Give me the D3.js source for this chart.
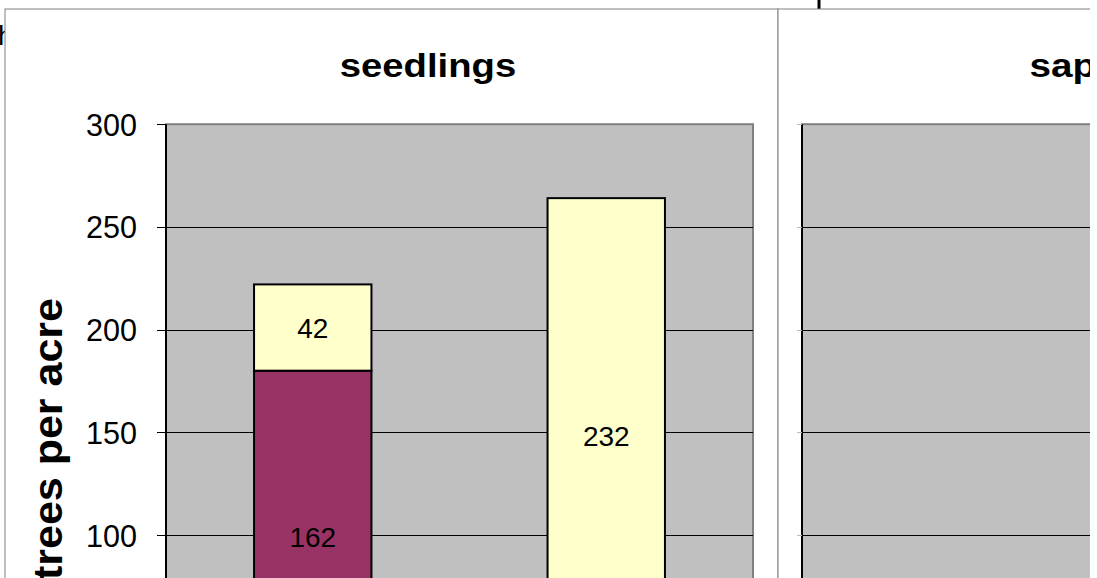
<!DOCTYPE html>
<html>
<head>
<meta charset="utf-8">
<script src="https://cdn.jsdelivr.net/npm/d3@7"></script>
<style>
  body { margin: 0; background: #fff; overflow: hidden; }
  svg { display: block; }
  text { font-family: "Liberation Sans", Arial, sans-serif; fill: #000; }
</style>
</head>
<body>
<div id="chart"></div>
<script>
// panels, categories, stacked series (bottom to top)
const panels = ["seedlings", "saplings"];
const categories = ["before", "after"];
const seriesNames = ["other", "oak", "maple"];
const seriesColors = ["#9999FF", "#993366", "#FFFFCC"];
// seedlings values per category, one entry per series
const seedlingsValues = [[18, 162, 42], [32, 0, 232]];
// saplings bars sit below the visible area
const saplingsValues = [[6, 10, 14], [4, 0, 20]];
const yTicks = [0, 50, 100, 150, 200, 250, 300];

const W = 1090, H = 578;
const svg = d3.select("#chart").append("svg")
    .attr("width", W)
    .attr("height", H);

// text sitting behind the chart object
svg.append("text")
    .attr("x", -2)
    .attr("y", 45)
    .attr("font-size", 28)
    .text("h");
svg.append("line")
    .attr("x1", 819).attr("x2", 819)
    .attr("y1", 0).attr("y2", 9)
    .attr("stroke", "#000")
    .attr("stroke-width", 3);

const y = d3.scaleLinear().domain([0, 300]).range([740.4, 124.2]);

function drawPanel(frameX, frameW, plotX, plotW, title, titleX, values, showLabels) {
    const g = svg.append("g");
    g.append("rect")
        .attr("x", frameX).attr("y", 9)
        .attr("width", frameW).attr("height", 900)
        .attr("fill", "#fff")
        .attr("stroke", "#808080")
        .attr("stroke-width", 1);

    g.append("rect")
        .attr("x", plotX).attr("y", y(300))
        .attr("width", plotW).attr("height", y(0) - y(300))
        .attr("fill", "#C0C0C0")
        .attr("stroke", "#808080")
        .attr("stroke-width", 2);

    // gridlines
    g.append("g").selectAll("line")
        .data(yTicks.filter(d => d > 0 && d < 300))
        .enter().append("line")
        .attr("x1", plotX).attr("x2", plotX + plotW)
        .attr("y1", d => Math.round(y(d)) + 0.5)
        .attr("y2", d => Math.round(y(d)) + 0.5)
        .attr("stroke", "#000")
        .attr("stroke-width", 1);

    const x = d3.scaleBand()
        .domain(categories)
        .range([plotX, plotX + plotW])
        .paddingInner(0.6)
        .paddingOuter(0.3);

    const stacked = d3.stack().keys(d3.range(seriesNames.length))(values);

    stacked.forEach((layer, si) => {
        g.append("g").selectAll("rect")
            .data(layer.map((d, i) => ({ d, cat: categories[i], v: values[i][si] })))
            .enter().append("rect")
            .filter(o => o.v > 0)
            .attr("x", o => x(o.cat))
            .attr("y", o => y(o.d[1]))
            .attr("width", x.bandwidth())
            .attr("height", o => y(o.d[0]) - y(o.d[1]))
            .attr("fill", seriesColors[si])
            .attr("stroke", "#000")
            .attr("stroke-width", 2);
    });

    stacked.forEach((layer, si) => {
        g.append("g").selectAll("text")
            .data(layer.map((d, i) => ({ d, cat: categories[i], v: values[i][si] })))
            .enter().append("text")
            .filter(o => o.v > 0)
            .attr("x", o => x(o.cat) + x.bandwidth() / 2)
            .attr("y", o => y((o.d[0] + o.d[1]) / 2))
            .attr("dy", "0.36em")
            .attr("text-anchor", "middle")
            .attr("font-size", 28)
            .text(o => o.v);
    });

    // y axis
    const axis = g.append("g");
    axis.append("line")
        .attr("x1", plotX).attr("x2", plotX)
        .attr("y1", y(0)).attr("y2", y(300))
        .attr("stroke", "#000")
        .attr("stroke-width", 2);
    axis.selectAll(".tick")
        .data(yTicks)
        .enter().append("line")
        .attr("x1", plotX - (showLabels ? 9 : 5)).attr("x2", plotX)
        .attr("y1", d => Math.round(y(d)) + 0.5)
        .attr("y2", d => Math.round(y(d)) + 0.5)
        .attr("stroke", showLabels ? "#000" : "#bbb")
        .attr("stroke-width", 1);
    if (showLabels) {
        axis.selectAll("text")
            .data(yTicks)
            .enter().append("text")
            .attr("x", plotX - 29)
            .attr("y", d => y(d))
            .attr("dy", "0.36em")
            .attr("text-anchor", "end")
            .attr("font-size", 32)
            .attr("textLength", d => String(d).length * 17)
            .attr("lengthAdjust", "spacingAndGlyphs")
            .text(d => d);
        g.append("text")
            .attr("transform", "translate(62,439) rotate(-90)")
            .attr("text-anchor", "middle")
            .attr("font-size", 40)
            .attr("font-weight", "bold")
            .attr("textLength", 282)
            .attr("lengthAdjust", "spacingAndGlyphs")
            .text("trees per acre");
    }

    // x labels (below the visible area)
    g.append("g").selectAll("text")
        .data(categories)
        .enter().append("text")
        .attr("x", d => x(d) + x.bandwidth() / 2)
        .attr("y", y(0) + 32)
        .attr("text-anchor", "middle")
        .attr("font-size", 27)
        .text(d => d);

    g.append("text")
        .attr("x", titleX)
        .attr("y", 77)
        .attr("text-anchor", "middle")
        .attr("font-size", 34)
        .attr("font-weight", "bold")
        .attr("textLength", title.length * 19.6)
        .attr("lengthAdjust", "spacingAndGlyphs")
        .text(title);
}

drawPanel(5, 773, 166, 587, panels[0], 428, seedlingsValues, true);
drawPanel(778, 900, 802, 587, panels[1], 1108, saplingsValues, false);
</script>
</body>
</html>
